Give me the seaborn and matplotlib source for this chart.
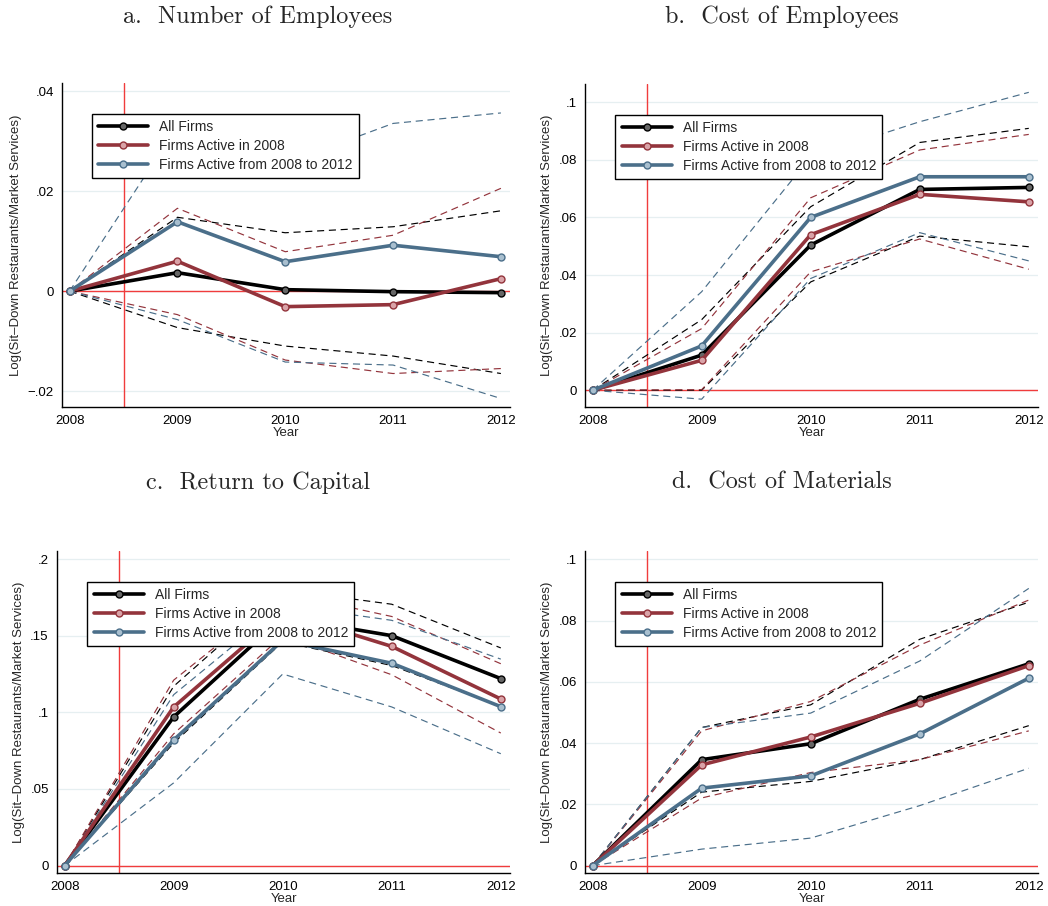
import matplotlib
matplotlib.use("Agg")
import matplotlib.pyplot as plt
import seaborn as sns

# -------------------------------
# style
# -------------------------------
sns.set_style("white")
plt.rcParams['font.family'] = ['Liberation Sans', 'DejaVu Sans']
plt.rcParams['axes.unicode_minus'] = True

years = [2008, 2009, 2010, 2011, 2012]
series_names = ["All Firms", "Firms Active in 2008", "Firms Active from 2008 to 2012"]
series_colors = ["#000000", "#93343c", "#4b6f8a"]
face_colors = ["#666666", "#d9a3a8", "#a9bfcf"]

# -------------------------------
# a. Number of Employees
# -------------------------------
emp_all = [0, 0.0037, 0.0003, -0.0001, -0.0003]
emp_all_hi = [0, 0.0148, 0.0117, 0.0129, 0.0161]
emp_all_lo = [0, -0.0073, -0.0110, -0.0130, -0.0165]
emp_08 = [0, 0.0060, -0.0031, -0.0027, 0.0025]
emp_08_hi = [0, 0.0166, 0.0079, 0.0112, 0.0206]
emp_08_lo = [0, -0.0047, -0.0138, -0.0165, -0.0155]
emp_0812 = [0, 0.0139, 0.0059, 0.0092, 0.0069]
emp_0812_hi = [0, 0.0330, 0.0256, 0.0336, 0.0357]
emp_0812_lo = [0, -0.0057, -0.0142, -0.0148, -0.0215]
emp_ticks = [-0.02, 0, 0.02, 0.04]
emp_ticklabels = ["\u2212.02", "0", ".02", ".04"]

# -------------------------------
# b. Cost of Employees
# -------------------------------
cemp_all = [0, 0.0122, 0.0504, 0.0697, 0.0704]
cemp_all_hi = [0, 0.0245, 0.0637, 0.0860, 0.0909]
cemp_all_lo = [0, 0.0000, 0.0376, 0.0535, 0.0498]
cemp_08 = [0, 0.0104, 0.0540, 0.0680, 0.0654]
cemp_08_hi = [0, 0.0214, 0.0668, 0.0834, 0.0888]
cemp_08_lo = [0, 0.0002, 0.0411, 0.0525, 0.0420]
cemp_0812 = [0, 0.0154, 0.0600, 0.0741, 0.0741]
cemp_0812_hi = [0, 0.0342, 0.0810, 0.0932, 0.1034]
cemp_0812_lo = [0, -0.0031, 0.0388, 0.0547, 0.0449]
cemp_ticks = [0, 0.02, 0.04, 0.06, 0.08, 0.1]
cemp_ticklabels = ["0", ".02", ".04", ".06", ".08", ".1"]

# -------------------------------
# c. Return to Capital
# -------------------------------
cap_all = [0, 0.0970, 0.1620, 0.1500, 0.1220]
cap_all_hi = [0, 0.1170, 0.1800, 0.1705, 0.1420]
cap_all_lo = [0, 0.0800, 0.1460, 0.1305, 0.1040]
cap_08 = [0, 0.1035, 0.1650, 0.1430, 0.1087]
cap_08_hi = [0, 0.1210, 0.1780, 0.1625, 0.1317]
cap_08_lo = [0, 0.0860, 0.1500, 0.1245, 0.0865]
cap_0812 = [0, 0.0820, 0.1470, 0.1320, 0.1037]
cap_0812_hi = [0, 0.1115, 0.1700, 0.1600, 0.1347]
cap_0812_lo = [0, 0.0540, 0.1250, 0.1035, 0.0730]
cap_ticks = [0, 0.05, 0.1, 0.15, 0.2]
cap_ticklabels = ["0", ".05", ".1", ".15", ".2"]

# -------------------------------
# d. Cost of Materials
# -------------------------------
mat_all = [0, 0.0346, 0.0398, 0.0543, 0.0659]
mat_all_hi = [0, 0.0451, 0.0525, 0.0739, 0.0860]
mat_all_lo = [0, 0.0240, 0.0275, 0.0346, 0.0457]
mat_08 = [0, 0.0329, 0.0420, 0.0530, 0.0653]
mat_08_hi = [0, 0.0440, 0.0536, 0.0720, 0.0867]
mat_08_lo = [0, 0.0221, 0.0304, 0.0346, 0.0440]
mat_0812 = [0, 0.0253, 0.0293, 0.0430, 0.0612]
mat_0812_hi = [0, 0.0451, 0.0498, 0.0668, 0.0905]
mat_0812_lo = [0, 0.0054, 0.0090, 0.0196, 0.0318]
mat_ticks = [0, 0.02, 0.04, 0.06, 0.08, 0.1]
mat_ticklabels = ["0", ".02", ".04", ".06", ".08", ".1"]

panels = [
    ("a.  Number of Employees", [emp_all, emp_08, emp_0812],
     [emp_all_lo, emp_08_lo, emp_0812_lo], [emp_all_hi, emp_08_hi, emp_0812_hi],
     emp_ticks, emp_ticklabels, (-0.0232, 0.0417), [0.0592, 0.5508, 0.4275, 0.3576],
     (0.2462, 0.981)),
    ("b.  Cost of Employees", [cemp_all, cemp_08, cemp_0812],
     [cemp_all_lo, cemp_08_lo, cemp_0812_lo], [cemp_all_hi, cemp_08_hi, cemp_0812_hi],
     cemp_ticks, cemp_ticklabels, (-0.0058, 0.1063), [0.5582, 0.5508, 0.4323, 0.3565],
     (0.7462, 0.981)),
    ("c.  Return to Capital", [cap_all, cap_08, cap_0812],
     [cap_all_lo, cap_08_lo, cap_0812_lo], [cap_all_hi, cap_08_hi, cap_0812_hi],
     cap_ticks, cap_ticklabels, (-0.0048, 0.2052), [0.0544, 0.0364, 0.4323, 0.3554],
     (0.2462, 0.467)),
    ("d.  Cost of Materials", [mat_all, mat_08, mat_0812],
     [mat_all_lo, mat_08_lo, mat_0812_lo], [mat_all_hi, mat_08_hi, mat_0812_hi],
     mat_ticks, mat_ticklabels, (-0.0024, 0.1027), [0.5582, 0.0364, 0.4323, 0.3554],
     (0.7462, 0.467)),
]

fig = plt.figure(figsize=(10.48, 9.06), dpi=100)

for title, ests, los, his, ticks, ticklabels, ylim, pos, tpos in panels:
    ax = fig.add_axes(pos)

    # light horizontal grid
    for t in ticks:
        ax.axhline(t, color="#e6eff1", lw=0.9, zorder=0)

    # reference lines
    ax.axhline(0, color="#f03c3c", lw=1.0, zorder=1)
    ax.axvline(2008.5, color="#f03c3c", lw=1.0, zorder=1)

    # confidence bands (dashed)
    for lo, hi, c in zip(los, his, series_colors):
        for band in (lo, hi):
            sns.lineplot(x=years, y=band, ax=ax, color=c, lw=0.85,
                         linestyle=(0, (6, 4)), zorder=2)

    # point estimates
    for est, name, c, fc in zip(ests, series_names, series_colors, face_colors):
        sns.lineplot(x=years, y=est, ax=ax, color=c, lw=2.6, marker="o",
                     markersize=5, markerfacecolor=fc, markeredgecolor=c,
                     markeredgewidth=1.0, zorder=3, label=name)

    leg = ax.legend(loc="upper left", bbox_to_anchor=(0.067, 0.905),
                    fontsize=10, frameon=True, fancybox=False,
                    edgecolor="black", framealpha=1, handlelength=3.6,
                    borderpad=0.45, labelspacing=0.35, handletextpad=0.8,
                    borderaxespad=0)
    leg.get_frame().set_linewidth(1.0)
    leg.set_zorder(5)

    ax.set_xlim(2007.93, 2012.085)
    ax.set_ylim(*ylim)
    ax.set_xticks(years)
    ax.set_xticklabels([str(y) for y in years])
    ax.set_yticks(ticks)
    ax.set_yticklabels(ticklabels)
    ax.tick_params(axis="both", direction="out", length=4, width=0.9,
                   labelsize=9.5, colors="black", pad=2)
    for s in ("top", "right"):
        ax.spines[s].set_visible(False)
    for s in ("left", "bottom"):
        ax.spines[s].set_color("black")
        ax.spines[s].set_linewidth(1.0)

    ax.set_xlabel("Year", fontsize=9.5, labelpad=0)
    ax.set_ylabel("Log(Sit\u2013Down Restaurants/Market Services)", fontsize=9.5, labelpad=4)

    # panel title, serif
    fig.text(tpos[0], tpos[1], title, ha="center", va="center",
             fontsize=17.5, family=["cmr10", "DejaVu Serif"])

plt.savefig("out.png", dpi=100)
